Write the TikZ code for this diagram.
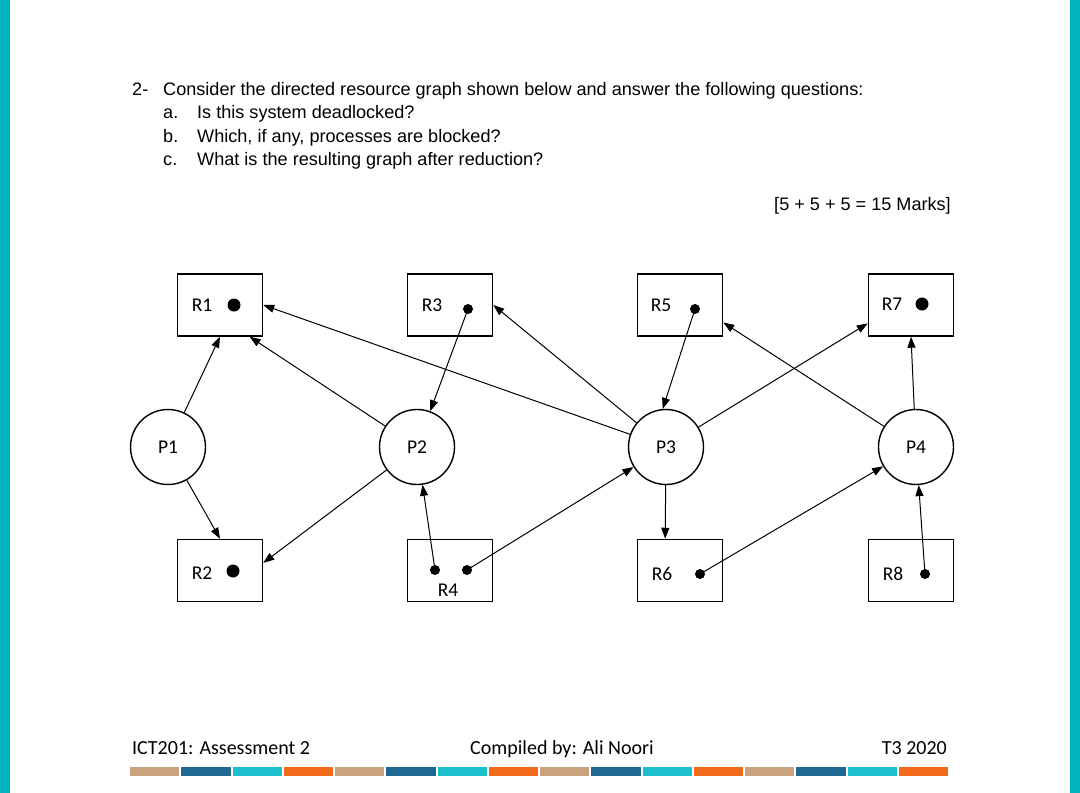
\documentclass[tikz,border=0pt]{standalone}
\usepackage{fontspec}
\setmainfont{Liberation Sans}
\newfontfamily\calibri{Carlito}
\usetikzlibrary{arrows.meta}
\definecolor{sidecyan}{HTML}{00B3BE}
\definecolor{bartan}{HTML}{C9A27E}
\definecolor{barblue}{HTML}{1F6892}
\definecolor{barcyan}{HTML}{1CC0CC}
\definecolor{barorange}{HTML}{F26A1C}
\begin{document}
\begin{tikzpicture}[x=1pt, y=-1pt,
  res/.style={draw, line width=1.5pt, minimum width=85pt, minimum height=62pt, inner sep=0pt},
  proc/.style={draw, circle, line width=1.4pt, minimum size=75pt, inner sep=0pt,
    font=\calibri\fontsize{19.5}{20}\selectfont},
  rname/.style={inner sep=0pt, font=\calibri\fontsize{19.5}{20}\selectfont},
  tok/.style={circle, fill=black, inner sep=0pt, minimum size=#1},
  tok/.default=10pt,
  qtext/.style={anchor=base west, inner sep=0pt, font=\fontsize{18.1}{21}\selectfont},
  foot/.style={inner sep=0pt, font=\calibri\fontsize{20}{22}\selectfont},
  req/.style={-{Triangle[length=11pt, width=8pt]}, line width=1pt}]
  % Page
  \fill[white] (0,0) rectangle (1080,793);
  \useasboundingbox (0,0) rectangle (1080,793);
  \fill[sidecyan] (0,0) rectangle (10,793);
  \fill[sidecyan] (1070,0) rectangle (1080,793);

  % Question
  \node[qtext] (qnum) at (132,95) {2-};
  \node[qtext] (qmain) at (163,95) {Consider the directed resource graph shown below and answer the following questions:};
  \node[qtext] (qa) at (163,118.5) {a.};
  \node[qtext] (qat) at (197,118.5) {Is this system deadlocked?};
  \node[qtext] (qb) at (163,142) {b.};
  \node[qtext] (qbt) at (197,142) {Which, if any, processes are blocked?};
  \node[qtext] (qc) at (163,165.5) {c.};
  \node[qtext] (qct) at (197,165.5) {What is the resulting graph after reduction?};
  \node[qtext, anchor=base east] (marks) at (951,210) {[5 + 5 + 5 = 15 Marks]};

  % Resources
  \node[res] (R1) at (220,305) {};
  \node[res] (R3) at (450,305) {};
  \node[res] (R5) at (680,305) {};
  \node[res] (R7) at (911,305) {};
  \node[res] (R2) at (220,570.5) {};
  \node[res] (R4) at (450,570.5) {};
  \node[res] (R6) at (680,570.5) {};
  \node[res] (R8) at (911,570.5) {};
  \node[rname] (R1t) at (202,305) {R1};
  \node[rname] (R3t) at (432,305) {R3};
  \node[rname] (R5t) at (661,305) {R5};
  \node[rname] (R7t) at (892,304) {R7};
  \node[rname] (R2t) at (202,573) {R2};
  \node[rname] (R4t) at (448,590) {R4};
  \node[rname] (R6t) at (662,574) {R6};
  \node[rname] (R8t) at (893,574) {R8};

  % Instances
  \node[tok=13pt] (R1d) at (234,305) {};
  \node[tok=13pt] (R2d) at (233,571) {};
  \node[tok=13pt] (R7d) at (922,304) {};
  \node[tok] (R3d) at (468,309) {};
  \node[tok] (R5d) at (695,309) {};
  \node[tok] (R4a) at (435,570) {};
  \node[tok] (R4b) at (467,570) {};
  \node[tok] (R6d) at (700,574) {};
  \node[tok] (R8d) at (925,574) {};

  % Processes
  \node[proc] (P1) at (168,447) {P1};
  \node[proc] (P2) at (417,447) {P2};
  \node[proc] (P3) at (666,447) {P3};
  \node[proc] (P4) at (916,447) {P4};

  % Requests
  \draw[req] (P1) -- (R1.south);
  \draw[req] (P1) -- (R2.north);
  \draw[req] (P2) -- (R1.-47);
  \draw[req] (P2) -- (R2.10);
  \draw[req] (P3) -- (R1.east);
  \draw[req] (P3) -- (R3.east);
  \draw[req] (P3) -- (R7.-157);
  \draw[req] (P3) -- (R6.115);
  \draw[req] (P4) -- (R5.-22);
  \draw[req] (P4) -- (R7.south);

  % Assignments
  \draw[req] (R3d.center) -- (P2);
  \draw[req] (R4a.center) -- (P2);
  \draw[req] (R4b.center) -- (P3);
  \draw[req] (R5d.center) -- (P3.95);
  \draw[req] (R6d.center) -- (P4);
  \draw[req] (R8d.center) -- (P4);

  % Footer
  \node[foot, anchor=base west] (fleft) at (132,754) {ICT201: Assessment 2};
  \node[foot, anchor=base west] (fmid) at (470,754) {Compiled by: Ali Noori};
  \node[foot, anchor=base east] (fright) at (947,754) {T3 2020};
  \foreach \c [count=\i from 0] in {bartan,barblue,barcyan,barorange,bartan,barblue,barcyan,barorange,
      bartan,barblue,barcyan,barorange,bartan,barblue,barcyan,barorange}
    \fill[\c] ({130+51.25*\i},767) rectangle +(49.25,9);
\end{tikzpicture}
\end{document}
